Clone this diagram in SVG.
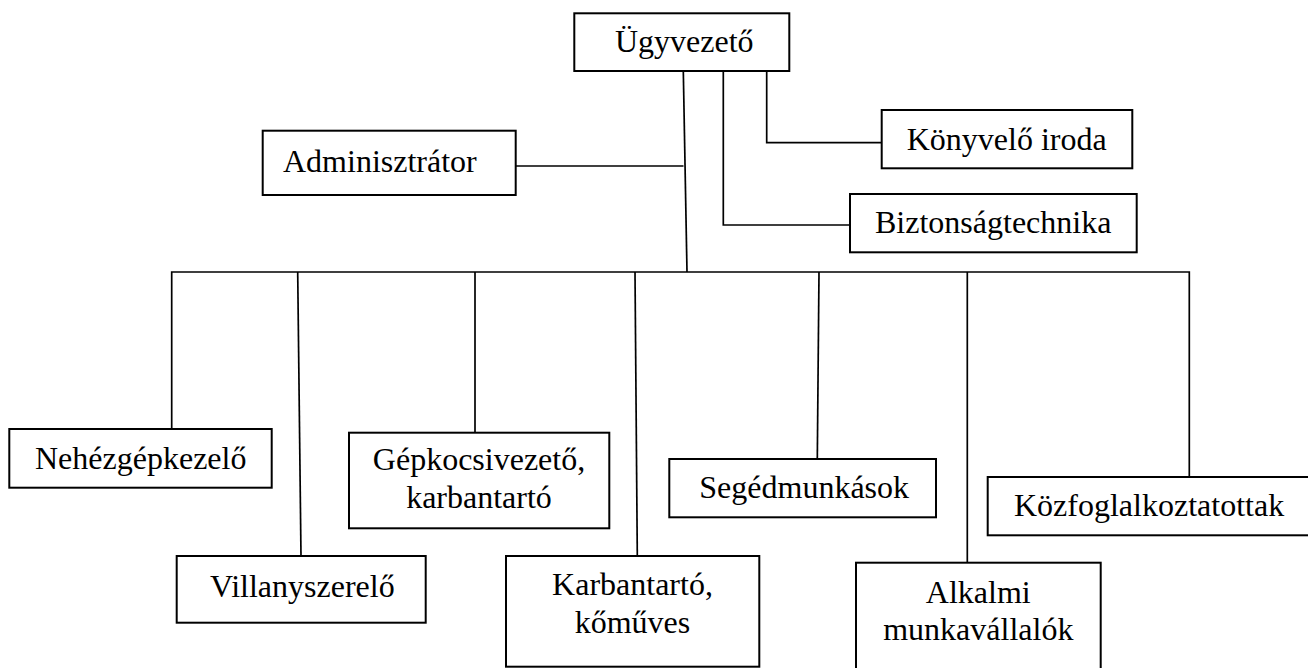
<svg xmlns="http://www.w3.org/2000/svg" width="1308" height="668" viewBox="0 0 1308 668">
<style>
.box{fill:#fff;stroke:#000;stroke-width:2}
.ln{fill:none;stroke:#000;stroke-width:1.7}
text{font-family:'Liberation Serif','Times New Roman',Tinos,'DejaVu Serif',serif;font-size:32px;fill:#000}
.c{text-anchor:middle}
</style>
<rect width="1308" height="668" fill="#fff"/>
<g id="connectors">
<path class="ln" d="M683.3,71 L687,272"/>
<path class="ln" d="M516,166 L683.5,166"/>
<path class="ln" d="M723.3,71 V225 H850"/>
<path class="ln" d="M766.7,71 V142.7 H882"/>
<path class="ln" d="M171.7,429 V272 H1189.3 V477"/>
<path class="ln" d="M297.7,272 L301,556"/>
<path class="ln" d="M475,272 V433"/>
<path class="ln" d="M635,272 L637.3,556"/>
<path class="ln" d="M819,272 L817.3,459"/>
<path class="ln" d="M967.3,272 V563"/>
</g>
<g font-family="Liberation Serif, serif">
<g id="ugyvezeto"><rect class="box" x="574.3" y="13.3" width="215" height="57.7"/><text x="615" y="52.3">Ügyvezető</text></g>
<g id="adminisztrator"><rect class="box" x="262.7" y="130.7" width="253" height="64.3"/><text x="283" y="171.7">Adminisztrátor</text></g>
<g id="konyvelo"><rect class="box" x="881.7" y="110" width="250.6" height="58.3"/><text x="906.7" y="150">Könyvelő iroda</text></g>
<g id="biztonsag"><rect class="box" x="850" y="194" width="286.7" height="58.3"/><text x="875" y="233.3">Biztonságtechnika</text></g>
<g id="nehezgep"><rect class="box" x="9.3" y="429" width="262.4" height="58.7"/><text x="35" y="469.3">Nehézgépkezelő</text></g>
<g id="villany"><rect class="box" x="176.7" y="556" width="249" height="66.7"/><text x="210" y="597.3">Villanyszerelő</text></g>
<g id="gepkocsi"><rect class="box" x="349" y="432.7" width="260.3" height="95.6"/><text class="c" x="479" y="470">Gépkocsivezető,</text><text class="c" x="479" y="508.3">karbantartó</text></g>
<g id="karbantarto"><rect class="box" x="506" y="556" width="253.3" height="110.7"/><text class="c" x="632.5" y="595">Karbantartó,</text><text class="c" x="632.5" y="633.3">kőműves</text></g>
<g id="segedmunkasok"><rect class="box" x="669.3" y="459" width="266.7" height="58.3"/><text x="699.3" y="498.3">Segédmunkások</text></g>
<g id="kozfoglalkoztatottak"><rect class="box" x="987.7" y="477" width="330" height="58.3"/><text x="1014" y="516">Közfoglalkoztatottak</text></g>
<g id="alkalmi"><rect class="box" x="856" y="562.7" width="244.7" height="120"/><text class="c" x="978.3" y="602.7">Alkalmi</text><text class="c" x="978.3" y="640">munkavállalók</text></g>
</g>
</svg>
